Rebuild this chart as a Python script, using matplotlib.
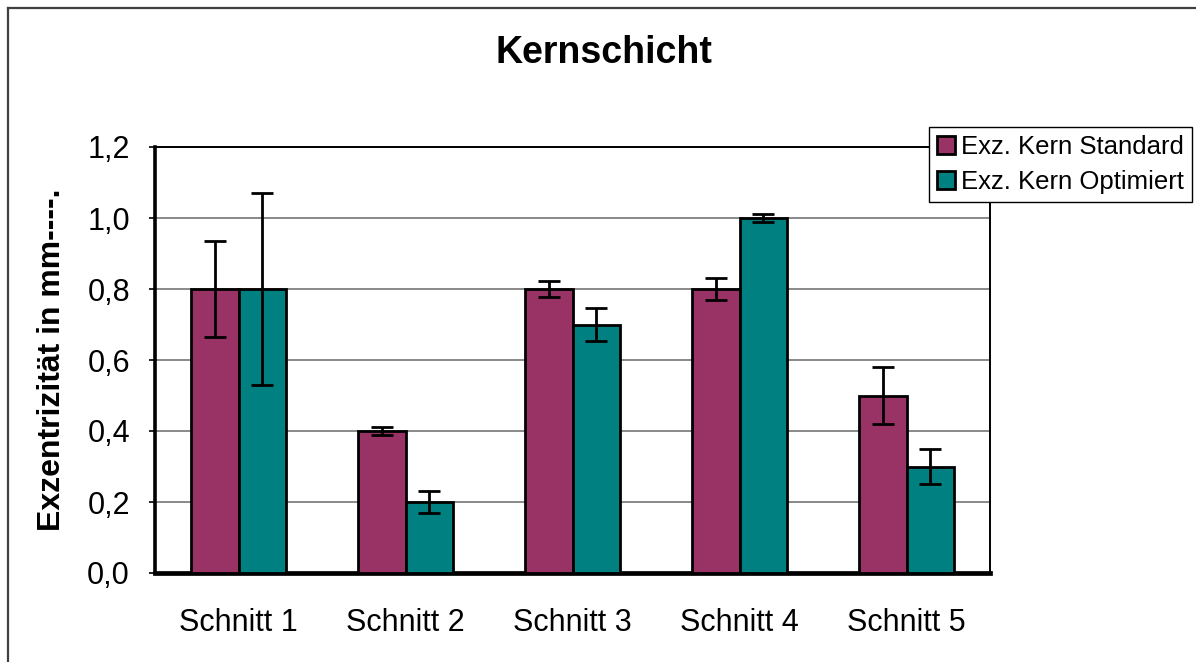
import numpy as np
from matplotlib import pyplot as plt
from matplotlib.lines import Line2D

plt.rcParams['font.family'] = ['Liberation Sans', 'DejaVu Sans']

categories = ['Schnitt 1', 'Schnitt 2', 'Schnitt 3', 'Schnitt 4', 'Schnitt 5']
standard = [0.8, 0.4, 0.8, 0.8, 0.5]
standard_err = [0.134, 0.01, 0.022, 0.032, 0.08]
optimiert = [0.8, 0.2, 0.7, 1.0, 0.3]
optimiert_err = [0.27, 0.03, 0.047, 0.01, 0.05]
yticks = [0.0, 0.2, 0.4, 0.6, 0.8, 1.0, 1.2]
ytick_labels = ['0,0', '0,2', '0,4', '0,6', '0,8', '1,0', '1,2']

fig = plt.figure(figsize=(11.96, 6.62), dpi=100)
ax = fig.add_axes([155 / 1196, 89 / 662, 835 / 1196, 426 / 662])

x = np.arange(len(categories))
width = 0.286

err_kw = dict(ecolor='black', elinewidth=2.0, capsize=8, capthick=2.0)
ax.bar(x - width / 2, standard, width, yerr=standard_err, color='#993366',
       edgecolor='black', linewidth=2.0, label='Exz. Kern Standard', error_kw=err_kw, zorder=3)
ax.bar(x + width / 2, optimiert, width, yerr=optimiert_err, color='#008080',
       edgecolor='black', linewidth=2.0, label='Exz. Kern Optimiert', error_kw=err_kw, zorder=3)

ax.set_xlim(-0.5, len(categories) - 0.5)
ax.set_ylim(0, 1.2)
ax.set_yticks(yticks)
ax.set_yticklabels(ytick_labels)
ax.set_xticks(x)
ax.set_xticklabels(categories)

ax.tick_params(axis='y', labelsize=22, length=4, width=1.2, pad=14, direction='out')
ax.tick_params(axis='x', labelsize=22, length=0, pad=25)

ax.yaxis.grid(True, color='#808080', linewidth=1.3, zorder=0)
ax.set_axisbelow(True)

ax.spines['left'].set_linewidth(2.6)
ax.spines['bottom'].set_linewidth(3.4)
ax.spines['top'].set_linewidth(1.4)
ax.spines['right'].set_linewidth(1.4)

ax.set_ylabel('Exzentrizität in mm----.', fontsize=23, fontweight='bold')
ax.yaxis.set_label_coords(-0.105, 0.5)

fig.text(604 / 1196, 1 - 53 / 662, 'Kernschicht', fontsize=27, fontweight='bold',
         ha='center', va='center')

leg = ax.legend(loc='upper left', bbox_to_anchor=(929 / 1196, 1 - 127 / 662),
                bbox_transform=fig.transFigure, fontsize=18.5, frameon=True,
                fancybox=False, framealpha=1, edgecolor='black', borderpad=0.3,
                handlelength=0.7, handleheight=0.7, handletextpad=0.25,
                labelspacing=0.45, borderaxespad=0)
leg.get_frame().set_linewidth(1.0)
for patch in leg.get_patches():
    patch.set_linewidth(2.0)

# outer chart border (only top and left visible)
fig.add_artist(Line2D([8 / 1196, 8 / 1196], [0, 1 - 8 / 662], transform=fig.transFigure,
                      color='#404040', linewidth=1.6))
fig.add_artist(Line2D([8 / 1196, 1], [1 - 8 / 662, 1 - 8 / 662], transform=fig.transFigure,
                      color='#404040', linewidth=1.6))

fig.savefig('out.png', dpi=100)
